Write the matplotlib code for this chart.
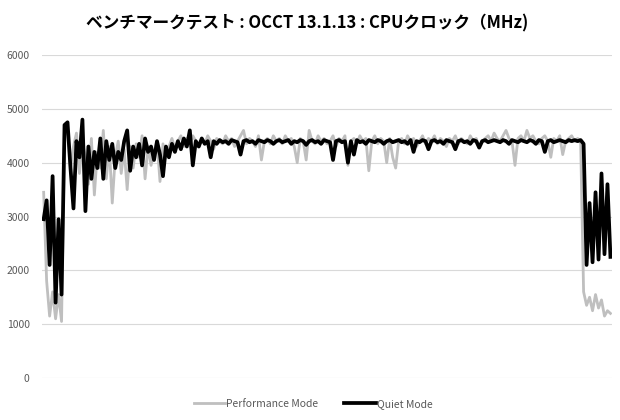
import numpy as np
import matplotlib
matplotlib.use("Agg")
import matplotlib.pyplot as plt

plt.rcParams['font.family'] = ['Noto Sans CJK JP', 'DejaVu Sans']

title = "ベンチマークテスト : OCCT 13.1.13 : CPUクロック（MHz)"
series_names = ["Performance Mode", "Quiet Mode"]
y_ticks = [0, 1000, 2000, 3000, 4000, 5000, 6000]

# CPU clock (MHz) per sample
performance = [
    3450, 1800, 1150, 1600, 1100, 1550, 1050, 4500, 4650, 3900,
    4300, 4550, 3800, 4400, 4100, 3600, 4450, 3400, 4200, 3900,
    4600, 3700, 4300, 3250, 4100, 4400, 3800, 4250, 3500, 4300,
    3900, 4350, 4100, 4500, 3700, 4300, 3950, 4200, 4400, 3650,
    4350, 4100, 4300, 4450, 4250, 4400, 4500, 4300, 4450, 4350,
    4500, 4400, 4300, 4450, 4350, 4500, 4400, 4250, 4450, 4400,
    4350, 4500, 4400, 4450, 4300, 4400, 4500, 4600, 4350, 4450,
    4400, 4300, 4500, 4050, 4400, 4450, 4350, 4500, 4400, 4450,
    4350, 4500, 4400, 4450, 4300, 4000, 4450, 4400, 4050, 4600,
    4400, 4350, 4500, 4400, 4450, 4350, 4400, 4500, 4300, 4450,
    4400, 4500, 3950, 4400, 4450, 4350, 4500, 4400, 4450, 3850,
    4400, 4500, 4350, 4450, 4400, 4000, 4450, 4100, 3900, 4400,
    4450, 4350, 4500, 4400, 4450, 4300, 4400, 4500, 4350, 4450,
    4400, 4500, 4350, 4450, 4400, 4300, 4450, 4400, 4500, 4350,
    4450, 4400, 4350, 4500, 4400, 4450, 4300, 4400, 4450, 4500,
    4400, 4550, 4450, 4400, 4500, 4600, 4450, 4400, 3950, 4450,
    4500, 4400, 4600, 4450, 4500, 4400, 4350, 4450, 4500, 4400,
    4100, 4450, 4400, 4500, 4150, 4400, 4450, 4500, 4400, 4450,
    4400, 1600, 1350, 1500, 1250, 1550, 1300, 1450, 1150, 1250,
    1200,
]

quiet = [
    2950, 3300, 2100, 3750, 1400, 2950, 1550, 4700, 4750, 3900,
    3150, 4400, 4100, 4800, 3100, 4300, 3700, 4200, 3900, 4450,
    3700, 4400, 4050, 4350, 3900, 4200, 4050, 4400, 4600, 3850,
    4300, 4100, 4350, 3950, 4450, 4200, 4300, 4050, 4400, 4150,
    3750, 4300, 4100, 4350, 4200, 4400, 4250, 4450, 4300, 4600,
    3950, 4400, 4300, 4450, 4350, 4400, 4100, 4400, 4350, 4420,
    4380, 4400, 4350, 4420, 4400, 4380, 4150, 4400, 4420, 4380,
    4400, 4350, 4420, 4400, 4380, 4420, 4400, 4350, 4400, 4420,
    4380, 4400, 4420, 4350, 4400, 4380, 4420, 4400, 4330, 4400,
    4420, 4380, 4400, 4350, 4420, 4400, 4380, 4050, 4400, 4420,
    4380, 4400, 4000, 4400, 4150, 4420, 4380, 4400, 4350, 4420,
    4400, 4380, 4420, 4400, 4350, 4400, 4420, 4380, 4400, 4420,
    4380, 4400, 4350, 4420, 4200, 4400, 4380, 4420, 4400, 4250,
    4400, 4420, 4380, 4400, 4350, 4420, 4400, 4380, 4250, 4400,
    4420, 4380, 4400, 4350, 4420, 4400, 4280, 4400, 4420, 4380,
    4400, 4420, 4400, 4380, 4420, 4400, 4350, 4420, 4400, 4380,
    4420, 4400, 4380, 4420, 4400, 4350, 4420, 4400, 4200, 4400,
    4420, 4380, 4400, 4420, 4400, 4380, 4420, 4400, 4420, 4400,
    4420, 4350, 2100, 3250, 2150, 3450, 2200, 3800, 2300, 3600,
    2250,
]

fig = plt.figure(figsize=(6.2, 4.2), dpi=100)
ax = fig.add_axes([0.068, 0.1, 0.919, 0.769])

x = np.arange(len(performance))
ax.plot(x, performance, color='#bfbfbf', lw=2.0, label=series_names[0], zorder=2)
ax.plot(x, quiet, color='#000000', lw=2.7, label=series_names[1], zorder=3)

ax.set_xlim(-0.5, len(performance) - 0.5)
ax.set_ylim(0, 6000)
ax.set_yticks(y_ticks)
ax.set_xticks([])
ax.grid(axis='y', color='#d9d9d9', lw=0.8)
ax.set_axisbelow(True)
for s in ax.spines.values():
    s.set_visible(False)
ax.tick_params(axis='y', length=0, labelsize=7.5, labelcolor='#595959', pad=9)

fig.text(0.495, 0.945, title, ha='center', va='center', fontsize=12, fontweight='bold')

fig.legend(loc='center', bbox_to_anchor=(0.505, 0.038), ncol=2, frameon=False,
           fontsize=7.5, handlelength=3, handletextpad=0.1, columnspacing=2.5,
           labelcolor='#595959')

fig.savefig('out.png', dpi=100)
